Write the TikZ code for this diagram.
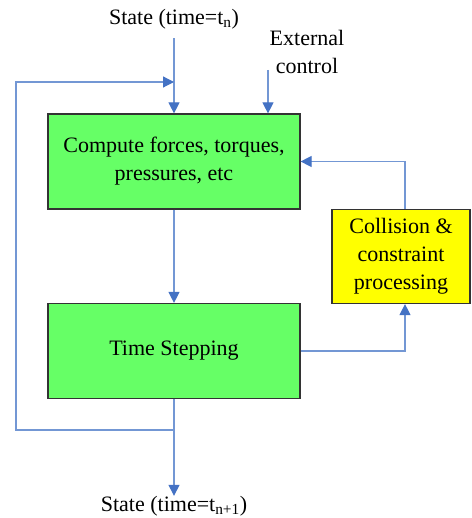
\documentclass[tikz,border=0pt]{standalone}
\usepackage{fontspec}
\setmainfont{Liberation Serif}
\usepackage{xcolor}
\usetikzlibrary{arrows.meta,positioning,calc}

\definecolor{boxgreen}{HTML}{66FF66}
\definecolor{boxyellow}{HTML}{FFFF00}
\definecolor{linkblue}{HTML}{7397D4}
\definecolor{tipblue}{HTML}{4472C4}

\tikzset{
  block/.style={draw=black!80, line width=1.2pt, minimum width=252pt, minimum height=95pt, align=center, inner sep=0pt},
  flow/.style={draw=linkblue, line width=1.2pt, -{Triangle[length=11pt,width=11pt,color=tipblue]}},
  lbl/.style={align=center, inner sep=0pt}
}

\begin{document}
\begin{tikzpicture}[x=1pt, y=-1pt, font=\fontsize{22}{28}\selectfont]
        \useasboundingbox (0,0) rectangle (471,518);

        % Blocks
        \node[block, fill=boxgreen] (force) at (174,161.5) {Compute forces, torques,\\pressures, etc};
        \node[block, fill=boxgreen] (step) at (174,351) {Time Stepping};
        \node[block, fill=boxyellow, minimum width=138pt, minimum height=94pt] (coll) at (401,256.5) {Collision \&\\constraint\\processing};

        % Labels
        \node[lbl] (stateIn) at (174,19) {State (time=t\textsubscript{n})};
        \node[lbl] (ext) at (307,52) {External\\control};
        \node[lbl] (stateOut) at (174,506) {State (time=t\textsubscript{n+1})};

        % Points on the lines
        \coordinate (extIn) at (268,70);
        \coordinate (join) at (174,82);
        \coordinate (split) at (174,430);

        % Arrows
        \draw[flow, shorten <=9pt] (stateIn.south) -- (force.north);
        \draw[flow] (extIn) -- (extIn |- force.north);
        \draw[flow] (force) -- (step);
        \draw[flow] (step.east) -| ([xshift=4pt]coll.south);
        \draw[flow] ([xshift=4pt]coll.north) |- (force.east);
        \draw[flow] (step) -- (stateOut);

        % Feedback loop
        \draw[flow] (split) -- ++(-158,0) |- (join);
    \end{tikzpicture}
\end{document}
